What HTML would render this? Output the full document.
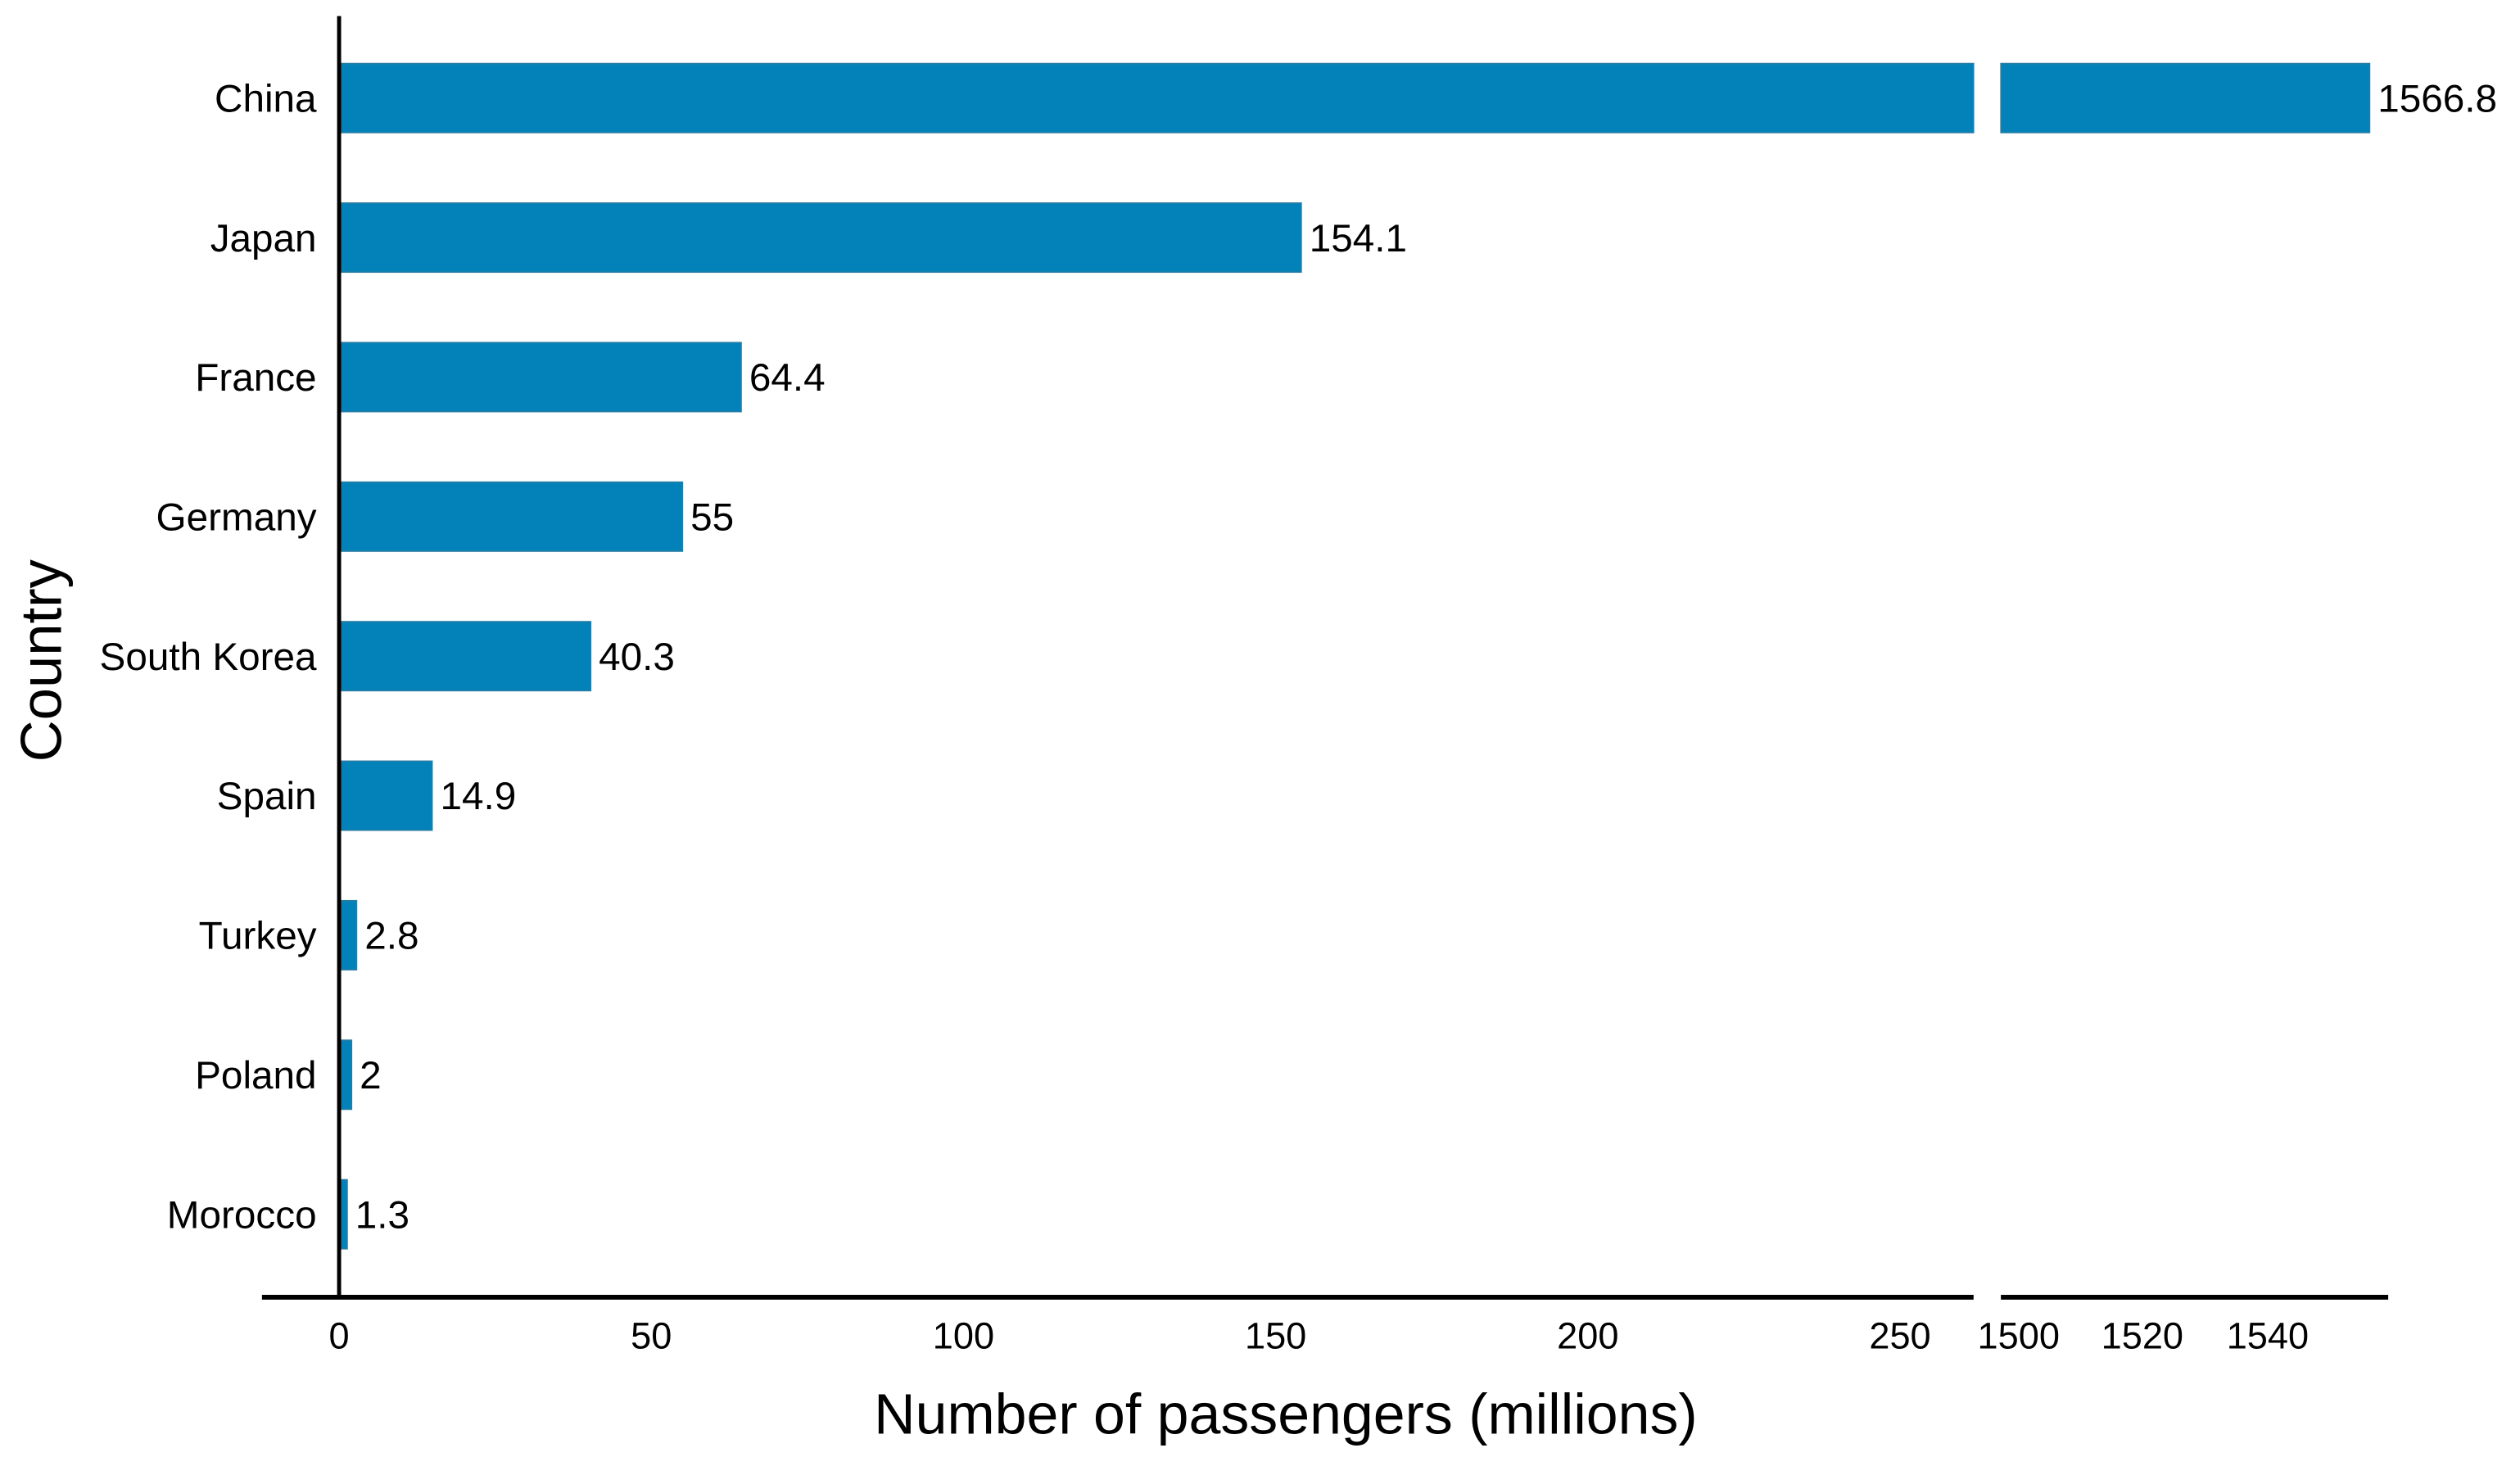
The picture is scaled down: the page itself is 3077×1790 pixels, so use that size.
<!DOCTYPE html>
<html><head><meta charset="utf-8"><style>
html,body{margin:0;padding:0;background:#fff;}
svg{display:block;font-family:"Liberation Sans",Arial,sans-serif;}
</style></head><body>
<svg id="chart" width="3077" height="1790" viewBox="0 0 1568 912" preserveAspectRatio="none" xmlns="http://www.w3.org/2000/svg">
<g id="bars"></g>
<g id="labels"></g>
<g id="axes"></g>
<text x="800" y="892" font-size="35.6" text-anchor="middle">Number of passengers (millions)</text>
<text transform="translate(38,411) rotate(-90)" font-size="36" text-anchor="middle">Country</text>
</svg>
<script>
const categories = ["China","Japan","France","Germany","South Korea","Spain","Turkey","Poland","Morocco"];
const values = [1566.8,154.1,64.4,55,40.3,14.9,2.8,2,1.3];
const valueLabels = ["1566.8","154.1","64.4","55","40.3","14.9","2.8","2","1.3"];
const leftTicks = [0,50,100,150,200,250];
const rightTicks = [1500,1520,1540];

const NS="http://www.w3.org/2000/svg";
const X0=211, K=3.885, BREAK_L=1228, BREAK_R=1245;
const R0=1500, RX0=1250, RK=3.36;
function xLeft(v){return X0+v*K;}
function xRight(v){return RX0+(v-R0)*RK;}
function yBand(i){return 61+i*86.8;}
const BH=43;
function mk(tag,attrs,parent){const e=document.createElementNS(NS,tag);for(const k in attrs)e.setAttribute(k,attrs[k]);parent.appendChild(e);return e;}
const bars=document.getElementById('bars'),labels=document.getElementById('labels'),axes=document.getElementById('axes');
const fill="#0282b9", stroke="#2b7ca3";
categories.forEach((c,i)=>{
  const y=yBand(i);
  let endX;
  if(values[i]>(BREAK_L-X0)/K){
    const r1=mk('rect',{x:X0,y:y-BH/2,width:BREAK_L-X0,height:BH,fill:fill,stroke:stroke,'stroke-width':0.8},bars);
    
    
    endX=xRight(values[i]);
    const r2=mk('rect',{x:BREAK_R,y:y-BH/2,width:endX-BREAK_R,height:BH,fill:fill,stroke:stroke,'stroke-width':0.8},bars);
    
    
  } else {
    endX=xLeft(values[i]);
    const r=mk('rect',{x:X0,y:y-BH/2,width:endX-X0,height:BH,fill:fill,stroke:stroke,'stroke-width':0.8},bars);
    
    
  }
  const t=mk('text',{x:197,y:y+8.5,'font-size':24.3,'text-anchor':'end'},labels);
  t.textContent=c;
  
  
  const v=mk('text',{x:endX+5,y:y+8.5,'font-size':24.3},labels);
  v.textContent=valueLabels[i];
  
  
});
const ya=mk('line',{x1:X0,y1:10,x2:X0,y2:807,stroke:'#000','stroke-width':2.5},axes);


const xa1=mk('line',{x1:163,y1:807,x2:BREAK_L,y2:807,stroke:'#000','stroke-width':3},axes);


const xa2=mk('line',{x1:BREAK_R,y1:807,x2:1486,y2:807,stroke:'#000','stroke-width':3},axes);


leftTicks.forEach(t=>{
  const e=mk('text',{x:xLeft(t),y:839,'font-size':23,'text-anchor':'middle'},axes);
  e.textContent=String(t);
  
  
});
const rightTickX=[1256,1333,1411];
rightTicks.forEach((t,i)=>{
  const e=mk('text',{x:xRight(t)+(rightTickX[i]-xRight(t)),y:839,'font-size':23,'text-anchor':'middle'},axes);
  e.textContent=String(t);
  
  
});
</script>
</body></html>
